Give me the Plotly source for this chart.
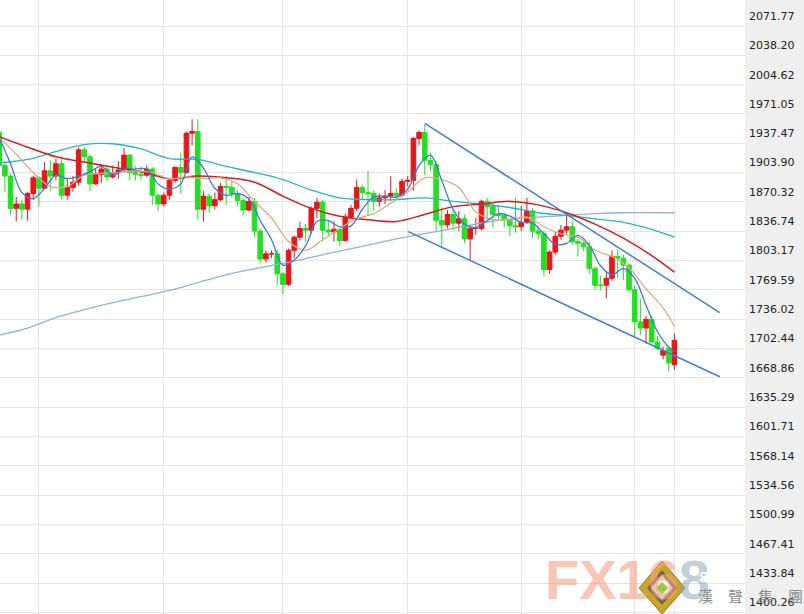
import plotly.graph_objects as go

# ---------------- data (daily candles, index 0..119) ----------------
opens = [1950,1912,1900,1863,1868,1862,1880,1898,1886,1906,1900,1914,1878,1887,1893,1930,1922,1891,1902,1908,
         1899,1904,1907,1924,1904,1902,1901,1908,1878,1868,1878,1895,1910,1904,1949,1951,1862,1877,1866,1873,
         1888,1887,1880,1872,1861,1871,1837,1805,1811,1811,1788,1776,1815,1830,1840,1838,1863,1870,1838,1836,
         1839,1826,1853,1863,1887,1881,1880,1871,1875,1877,1880,1878,1894,1895,1943,1950,1918,1913,1849,1844,
         1856,1846,1851,1828,1840,1840,1871,1865,1856,1855,1850,1843,1842,1847,1860,1837,1834,1793,1813,1831,
         1838,1842,1825,1823,1819,1794,1775,1775,1783,1808,1806,1798,1770,1733,1726,1736,1710,1695,1703,1684]
highs = [1955,1917,1903,1876,1873,1882,1900,1900,1916,1918,1920,1921,1897,1900,1933,1933,1925,1909,1913,1912,
         1912,1917,1932,1925,1912,1911,1912,1910,1880,1881,1897,1910,1927,1951,1965,1965,1883,1880,1881,1892,
         1900,1894,1884,1874,1876,1875,1840,1815,1815,1816,1790,1817,1832,1848,1845,1865,1875,1873,1849,1848,
         1840,1857,1867,1896,1890,1906,1884,1880,1884,1900,1886,1897,1900,1945,1952,1959,1927,1917,1864,1861,
         1862,1860,1856,1843,1852,1873,1875,1870,1867,1858,1851,1875,1866,1875,1863,1843,1837,1815,1836,1844,
         1855,1849,1828,1825,1825,1797,1786,1790,1815,1816,1810,1800,1775,1760,1740,1740,1717,1705,1706,1720]
lows = [1882,1882,1855,1848,1850,1849,1873,1865,1885,1883,1895,1873,1873,1882,1889,1915,1883,1890,1892,1894,
        1897,1897,1905,1895,1895,1895,1899,1867,1860,1865,1873,1892,1880,1903,1935,1850,1848,1858,1862,1871,
        1867,1875,1866,1855,1860,1830,1800,1801,1806,1775,1764,1774,1806,1826,1825,1834,1852,1825,1830,1825,
        1820,1825,1850,1860,1873,1855,1860,1865,1868,1872,1873,1876,1888,1883,1935,1901,1906,1836,1817,1840,
        1838,1837,1823,1803,1833,1838,1851,1841,1850,1841,1831,1835,1837,1845,1829,1828,1785,1788,1810,1827,
        1834,1821,1808,1814,1788,1770,1769,1760,1780,1783,1781,1767,1717,1718,1708,1709,1700,1690,1676,1678]
closes = [1912,1900,1863,1868,1862,1880,1898,1886,1906,1900,1914,1878,1887,1893,1930,1922,1891,1902,1908,1899,
          1904,1907,1924,1904,1902,1901,1908,1878,1868,1878,1895,1910,1904,1949,1951,1862,1877,1866,1873,1888,
          1887,1880,1872,1861,1871,1837,1805,1811,1811,1788,1776,1815,1830,1840,1838,1863,1870,1838,1836,1839,
          1826,1853,1863,1887,1881,1880,1871,1875,1877,1880,1878,1894,1895,1943,1950,1918,1913,1849,1844,1856,
          1846,1851,1828,1840,1840,1871,1865,1856,1855,1850,1843,1842,1847,1860,1837,1834,1793,1813,1831,1838,
          1842,1825,1823,1819,1794,1775,1775,1783,1808,1806,1798,1770,1733,1726,1736,1710,1703,1700,1686,1712]
days = list(range(len(closes)))

ma5_x = [0,2,4,6,8,10,12,14,16,18,20,22,24,26,28,30,32,34,36,38,40,42,44,46,48,50,52,54,56,58,
         60,62,64,66,68,70,72,74,76,78,80,82,84,86,88,90,92,94,96,98,100,102,104,106,108,110,112,114,116,118,119]
ma5 = [1944,1914,1881,1874,1886,1901,1897,1900,1905,1911,1901,1908,1908,1908,1891,1885,1891,1922,1909,1886,
       1878,1880,1874,1849,1827,1798,1804,1820,1848,1849,1842,1843,1862,1876,1877,1876,1885,1912,1924,1895,
       1862,1845,1841,1849,1857,1854,1847,1846,1834,1822,1823,1832,1821,1797,1787,1794,1783,1752,1722,1704,1699]
ma10_x = [0,3,6,9,12,15,18,21,24,27,30,33,36,39,42,45,48,51,54,57,60,63,66,69,72,75,78,81,84,87,
          90,93,96,99,102,105,108,111,114,117,119]
ma10 = [1944,1925,1904,1888,1888,1901,1903,1904,1906,1904,1897,1899,1897,1898,1891,1871,1852,1825,1815,1827,
        1840,1851,1857,1869,1882,1898,1896,1887,1859,1850,1850,1853,1842,1834,1830,1815,1808,1795,1771,1749,1728]
ma_long_x = [0,5,10,15,20,25,30,35,40,45,50,55,60,65,70,75,80,85,90,95,100,105,110,115,119]
ma30 = [1945,1933,1922,1916,1910,1905,1897,1900,1898,1893,1877,1863,1854,1850,1848,1856,1865,1868,1871,1867,
        1858,1845,1829,1809,1790]
ma60 = [1915,1919,1928,1936,1937,1931,1920,1919,1911,1904,1896,1884,1875,1873,1873,1875,1871,1868,1864,1858,
        1855,1851,1847,1839,1830]
ma120 = [1718,1726,1738,1747,1755,1762,1769,1778,1787,1794,1800,1807,1814,1821,1828,1834,1840,1846,1851,1853,
         1855,1857,1858,1858,1858]

# channel lines drawn on the chart
upper_x = [75.0, 127.0]
upper_y = [1960.4, 1743.6]
lower_x = [72.1, 127.0]
lower_y = [1836.3, 1670.3]

# axes
month_marks = [7, 29, 50, 72, 92, 112, 119]
price_ticks = [2071.77, 2038.20, 2004.62, 1971.05, 1937.47, 1903.90, 1870.32, 1836.74, 1803.17, 1769.59,
               1736.02, 1702.44, 1668.86, 1635.29, 1601.71, 1568.14, 1534.56, 1500.99, 1467.41, 1433.84, 1400.26]
price_labels = ["%.2f" % v for v in price_ticks]

RED = "#e8161b"
GREEN = "#22e022"

fig = go.Figure()
fig.add_trace(go.Candlestick(
    x=days, open=opens, high=highs, low=lows, close=closes,
    increasing=dict(line=dict(color=RED, width=1), fillcolor=RED),
    decreasing=dict(line=dict(color=GREEN, width=1), fillcolor=GREEN),
    whiskerwidth=0, showlegend=False, hoverinfo="skip"))

def add_line(x, y, color, width=1.3, shape="spline"):
    fig.add_trace(go.Scatter(x=x, y=y, mode="lines", line=dict(color=color, width=width, shape=shape),
                             showlegend=False, hoverinfo="skip"))

add_line(ma_long_x, ma120, "#8fb4cb")
add_line(ma_long_x, ma60, "#27b5c4")
add_line(ma_long_x, ma30, "#cf1e22", 1.5)
add_line(ma10_x, ma10, "#deaa86")
add_line(ma5_x, ma5, "#3a7bd5")
add_line(upper_x, upper_y, "#3f7fcf", 1.5, "linear")
add_line(lower_x, lower_y, "#3f7fcf", 1.5, "linear")

W, H, PW = 804, 614, 745

def px(x):
    return x / PW

def py(y):
    return (H - y) / H

shapes = [
    dict(type="path", xref="paper", yref="paper", layer="above",
         path=f"M {px(662)},{py(561)} L {px(685)},{py(588)} L {px(662)},{py(614)} L {px(639)},{py(588)} Z",
         fillcolor="#cfa424", line=dict(color="#8a7a2a", width=1)),
    dict(type="path", xref="paper", yref="paper", layer="above",
         path=f"M {px(662)},{py(570)} L {px(677)},{py(588)} L {px(662)},{py(605)} L {px(647)},{py(588)} Z",
         fillcolor="#6b6a55", line=dict(width=0)),
    dict(type="path", xref="paper", yref="paper", layer="above",
         path=f"M {px(662)},{py(575)} L {px(673)},{py(588)} L {px(662)},{py(600)} L {px(651)},{py(588)} Z",
         fillcolor="#eeeeee", line=dict(width=0)),
    dict(type="path", xref="paper", yref="paper", layer="above",
         path=f"M {px(662)},{py(582)} L {px(668)},{py(588)} L {px(662)},{py(594)} L {px(656)},{py(588)} Z",
         fillcolor="#9ccc3c", line=dict(width=0)),
]

annotations = [
    dict(xref="paper", yref="paper", x=px(543), y=py(579), xanchor="left", yanchor="middle",
         text="<b><span style='color:rgba(242,160,130,0.6)'>FX16</span>"
              "<span style='color:rgba(150,165,190,0.55)'>8</span></b>",
         showarrow=False, font=dict(family="Liberation Sans", size=56)),
    dict(xref="paper", yref="paper", x=px(697), y=py(577), xanchor="left", yanchor="middle",
         text="<b>SINO</b>", showarrow=False,
         font=dict(family="Liberation Sans", size=14, color="rgba(255,255,255,0.9)")),
    dict(xref="paper", yref="paper", x=px(696), y=py(595), xanchor="left", yanchor="middle",
         text="漢　聲　集　團", showarrow=False,
         font=dict(family="Noto Sans CJK TC", size=15, color="#8e8e8e")),
]

fig.update_layout(
    width=W, height=H,
    margin=dict(l=0, r=W - PW, t=0, b=0),
    paper_bgcolor="#efefef", plot_bgcolor="#ffffff",
    showlegend=False, boxgap=0.1, boxgroupgap=0.1,
    shapes=shapes, annotations=annotations,
    xaxis=dict(range=[0.14, 131.44], tickvals=month_marks, showticklabels=False, ticks="",
               showgrid=True, gridcolor="#e4e4e4", gridwidth=1, zeroline=False,
               rangeslider=dict(visible=False), fixedrange=True),
    yaxis=dict(side="right", range=[1398.66, 2101.53], tickvals=price_ticks, ticktext=price_labels,
               ticks="", ticklabelstandoff=3, ticklabelshift=-10,
               tickfont=dict(family="DejaVu Sans", size=11, color="#222222"),
               showgrid=True, gridcolor="#e4e4e4", gridwidth=1, zeroline=False, fixedrange=True),
)

fig.write_html("out.html", config={"displayModeBar": False},
               post_script="document.body.style.margin='0';document.body.style.overflow='hidden';")
